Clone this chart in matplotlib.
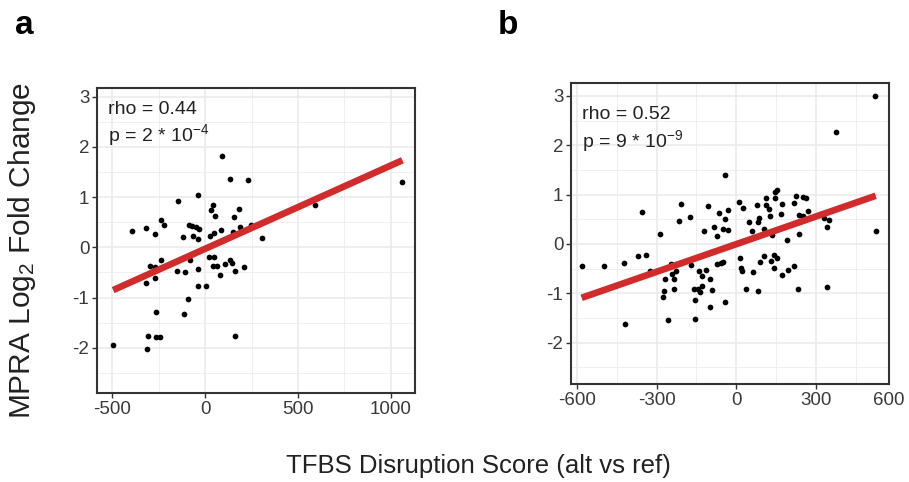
import numpy as np
import matplotlib
matplotlib.use("Agg")
import matplotlib.pyplot as plt
from matplotlib.ticker import MultipleLocator

plt.rcParams['font.family'] = ['Liberation Sans', 'DejaVu Sans']
plt.rcParams['mathtext.default'] = 'regular'
plt.rcParams['axes.unicode_minus'] = False

# panel a: TFBS disruption score vs MPRA log2 fold change
a_x = [-496, -396, -318, -273, -236, -221, -145, -300, -273, -236, -318, -268, -266,
       -309, -313, -263, -246, -118, -89, -71, -50, -32, -68, -39, -41, -154, -111,
       -84, -38, -36, 2, -95, -116, 91, 134, 232, 30, 41, 54, 155, 184, 27, 45, 86,
       148, 188, 246, 305, 21, 45, 41, 62, 107, 134, 146, 159, 207, 80, 161, 591, 1063]
a_y = [-1.95, 0.32, 0.39, 0.27, 0.54, 0.44, 0.93, -0.37, -0.40, -0.25, -0.71, -0.61, -1.29,
       -1.77, -2.02, -1.79, -1.79, 0.21, 0.45, 0.42, 0.41, 0.37, 0.23, 0.16, 1.04, -0.48, -0.50,
       -0.25, -0.43, -0.78, -0.77, -1.02, -1.33, 1.81, 1.35, 1.34, 0.74, 0.84, 0.62, 0.60, 0.76,
       0.22, 0.29, 0.35, 0.31, 0.41, 0.44, 0.19, -0.19, -0.19, -0.37, -0.37, -0.33, -0.25,
       -0.31, -0.47, -0.39, -0.56, -1.76, 0.85, 1.30]
a_stats = ["rho = 0.44", "p = 2 * 10$^{\\mathregular{-4}}$"]
a_fit = (0.001657, -0.03)  # slope, intercept of the lm line as drawn

# panel b
b_x = [-582, -497, -424, -420, -371, -355, -339, -326, -287, -274, -276, -267, -257, -246,
       -242, -236, -235, -228, -217, -207, -176, -171, -158, -155, -156, -145, -135, -141,
       -131, -129, -121, -116, -106, -101, -98, -91, -83, -73, -72, -64, -59, -50, -50, -44,
       -43, -42, -33, -30, 8, 13, 19, 21, 25, 37, 48, 57, 63, 77, 81, 82, 86, 89, 102, 102,
       111, 111, 124, 126, 129, 134, 141, 142, 145, 146, 154, 151, 166, 170, 173, 190, 194,
       218, 218, 224, 231, 234, 237, 250, 252, 260, 268, 328, 340, 342, 347, 376, 523, 524]
b_y = [-0.45, -0.45, -0.38, -1.63, -0.25, 0.64, -0.22, -0.55, 0.19, -0.95, -1.07, -0.72,
       -1.55, -0.41, -0.61, -0.72, -0.92, -0.55, 0.47, 0.81, 0.54, -0.43, -0.92, -1.13,
       -1.52, -0.92, -0.97, -0.55, -0.65, -0.85, 0.26, -0.52, 0.76, -0.72, -1.28, -0.94,
       0.34, 0.16, -0.41, 0.63, -0.38, -0.36, 0.30, 1.40, 0.51, -1.17, 0.68, 0.28, 0.84,
       -0.28, -0.48, -0.55, 0.73, -0.92, 0.44, 0.26, -0.58, 0.78, 0.44, -0.95, 0.53, -0.36,
       0.30, -0.24, 0.93, 0.78, 0.70, 0.56, -0.35, 0.17, -0.49, -0.22, 1.05, 0.92, 1.09,
       -0.28, 0.60, 0.81, -0.63, 0.07, -0.52, 0.82, -0.45, 0.97, -0.92, 0.19, 0.59, 0.56,
       0.94, 0.92, 0.66, 0.53, -0.88, 0.34, 0.49, 2.27, 3.00, 0.26]
b_stats = ["rho = 0.52", "p = 9 * 10$^{\\mathregular{-9}}$"]
b_fit = (0.00187, -0.005)

FRAME = "#333333"
TXT = "#3a3a3a"
RED = "#D12B2B"
TICK_FS = 13.5


def draw_panel(ax, xs, ys, fit, stats, xlim, ylim, xmajor, xticks, text_y, lsp):
    ax.set_facecolor("white")
    ax.scatter(xs, ys, s=17, color="black", zorder=3, linewidths=0)
    lx = np.array([min(xs), max(xs)])
    ax.plot(lx, fit[0] * lx + fit[1], color=RED, lw=4.8, solid_capstyle="butt", zorder=4)
    ax.set_xlim(*xlim)
    ax.set_ylim(*ylim)
    ax.set_xticks(xticks)
    ax.set_yticks([-2, -1, 0, 1, 2, 3])
    ax.xaxis.set_minor_locator(MultipleLocator(xmajor / 2))
    ax.yaxis.set_minor_locator(MultipleLocator(0.5))
    ax.grid(which="major", color="#EBEBEB", lw=1.2, zorder=0)
    ax.grid(which="minor", color="#EFEFEF", lw=0.7, zorder=0)
    ax.set_axisbelow(True)
    ax.tick_params(which="major", length=3.5, width=1.0, color=FRAME,
                   labelsize=TICK_FS, labelcolor=TXT, pad=2)
    ax.tick_params(which="minor", length=0)
    for sp in ax.spines.values():
        sp.set_color(FRAME)
        sp.set_linewidth(1.5)
    ax.text(0.035, text_y, stats[0] + "\n" + stats[1], transform=ax.transAxes,
            ha="left", va="top", fontsize=14, color="#222222", linespacing=lsp)


fig = plt.figure(figsize=(9.09, 4.82), dpi=100)
ax_a = fig.add_axes([97 / 909, 1 - 393 / 482, 318 / 909, 305 / 482])
ax_b = fig.add_axes([571 / 909, 1 - 384 / 482, 318 / 909, 301 / 482])

draw_panel(ax_a, a_x, a_y, a_fit, a_stats, (-583, 1131), (-2.9, 3.17), 500,
           [-500, 0, 500, 1000], 0.958, 1.2)
draw_panel(ax_b, b_x, b_y, b_fit, b_stats, (-622, 574), (-2.84, 3.26), 300,
           [-600, -300, 0, 300], 0.925, 1.28)
# the 600 break sits on the panel's right border
ax_b.annotate("600", xy=(1.0, 0), xycoords="axes fraction", xytext=(0, -5.5),
              textcoords="offset points", ha="center", va="top",
              fontsize=TICK_FS, color=TXT, annotation_clip=False)

fig.text(15 / 909, 1 - 34 / 482, "a", fontsize=24, fontweight="bold", ha="left",
         va="baseline")
fig.text(498 / 909, 1 - 34 / 482, "b", fontsize=24, fontweight="bold", ha="left",
         va="baseline")
fig.text(22 / 909, 1 - 250 / 482, "MPRA Log$_2$ Fold Change", rotation=90, fontsize=21.5,
         ha="center", va="center", color="#222222")
fig.text(478 / 909, 1 - 466 / 482, "TFBS Disruption Score (alt vs ref)", fontsize=18.5,
         ha="center", va="center", color="#222222")

fig.savefig("out.png", dpi=100)
